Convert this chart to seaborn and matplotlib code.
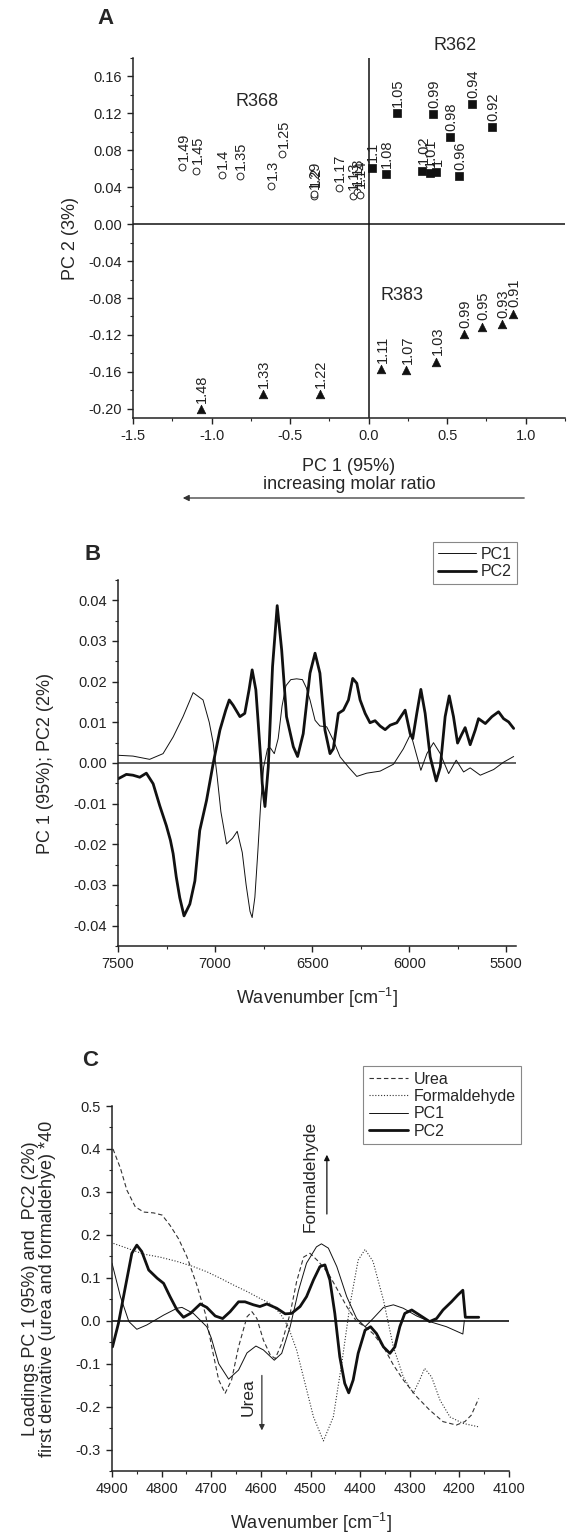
import matplotlib
matplotlib.use("Agg")
import pandas as pd
import matplotlib.pyplot as plt
from matplotlib.ticker import MultipleLocator, FuncFormatter
import seaborn as sns

# ---------------- Panel A: PCA scores ----------------
r368_pc1 = [-1.185, -1.096, -0.936, -0.82, -0.62, -0.55, -0.35, -0.345, -0.19, -0.10, -0.075, -0.057]
r368_pc2 = [0.062, 0.058, 0.053, 0.052, 0.041, 0.076, 0.031, 0.033, 0.039, 0.030, 0.035, 0.032]
r368_lab = ["1.49", "1.45", "1.4", "1.35", "1.3", "1.25", "1.29", "1.2", "1.17", "1.13", "1.18", "1.14"]

r362_pc1 = [0.02, 0.11, 0.18, 0.34, 0.39, 0.43, 0.41, 0.52, 0.575, 0.655, 0.785]
r362_pc2 = [0.061, 0.054, 0.120, 0.058, 0.055, 0.056, 0.119, 0.094, 0.052, 0.130, 0.105]
r362_lab = ["1.1", "1.08", "1.05", "1.02", "1.01", "1", "0.99", "0.98", "0.96", "0.94", "0.92"]

r383_pc1 = [-1.07, -0.675, -0.31, 0.08, 0.24, 0.43, 0.61, 0.72, 0.85, 0.92]
r383_pc2 = [-0.200, -0.184, -0.184, -0.157, -0.158, -0.149, -0.119, -0.111, -0.108, -0.097]
r383_lab = ["1.48", "1.33", "1.22", "1.11", "1.07", "1.03", "0.99", "0.95", "0.93", "0.91"]

# ---------------- Panel B: loadings ----------------
b_pc1_wn = [7500, 7423, 7337, 7268, 7216, 7165, 7113, 7062, 7030, 7010, 6990, 6970, 6941, 6910,
            6886, 6860, 6840, 6820, 6809, 6795, 6780, 6765, 6750, 6730, 6715, 6695, 6675, 6655,
            6635, 6610, 6580, 6550, 6530, 6511, 6485, 6460, 6425, 6391, 6356, 6313, 6270, 6219,
            6150, 6081, 6030, 5992, 5964, 5940, 5909, 5875, 5840, 5797, 5758, 5720, 5686, 5634,
            5565, 5514, 5462]
b_pc1 = [0.0019, 0.0017, 0.0009, 0.0023, 0.0064, 0.0114, 0.0173, 0.0155, 0.0100, 0.0050, -0.0030,
         -0.0120, -0.0199, -0.0185, -0.0168, -0.0220, -0.0300, -0.0365, -0.0380, -0.0330, -0.0220,
         -0.0100, -0.0010, 0.0035, 0.0037, 0.0023, 0.0060, 0.0140, 0.0190, 0.0205, 0.0207, 0.0205,
         0.0185, 0.0155, 0.0105, 0.0091, 0.0089, 0.0056, 0.0015, -0.0010, -0.0033, -0.0025, -0.0020,
         -0.0003, 0.0035, 0.0072, 0.0023, -0.0018, 0.0023, 0.0050, 0.0023, -0.0026, 0.0007, -0.0022,
         -0.0012, -0.0030, -0.0016, 0.0002, 0.0016]

b_pc2_wn = [7500, 7457, 7423, 7388, 7354, 7319, 7285, 7251, 7230, 7216, 7200, 7182, 7160, 7130,
            7104, 7079, 7044, 7010, 6975, 6945, 6927, 6907, 6872, 6847, 6825, 6809, 6790, 6778,
            6765, 6757, 6743, 6726, 6704, 6680, 6657, 6632, 6597, 6575, 6546, 6511, 6485, 6460,
            6434, 6408, 6391, 6365, 6339, 6313, 6291, 6270, 6253, 6227, 6202, 6176, 6150, 6124,
            6098, 6064, 6021, 5995, 5982, 5961, 5940, 5918, 5892, 5861, 5840, 5815, 5794, 5772,
            5751, 5730, 5712, 5686, 5660, 5643, 5608, 5574, 5540, 5514, 5488, 5462]
b_pc2 = [-0.0039, -0.0028, -0.0030, -0.0035, -0.0025, -0.0051, -0.0105, -0.0154, -0.0190, -0.0223,
         -0.0280, -0.0331, -0.0376, -0.0347, -0.0290, -0.0166, -0.0092, -0.0002, 0.0081, 0.0130,
         0.0155, 0.0142, 0.0114, 0.0122, 0.0180, 0.0229, 0.0180, 0.0100, 0.0010, -0.0051, -0.0107,
         -0.0010, 0.0237, 0.0387, 0.0278, 0.0114, 0.0040, 0.0016, 0.0072, 0.0221, 0.0270, 0.0221,
         0.0081, 0.0023, 0.0035, 0.0122, 0.0130, 0.0155, 0.0208, 0.0196, 0.0155, 0.0122, 0.0099,
         0.0104, 0.0091, 0.0082, 0.0093, 0.0099, 0.0130, 0.0072, 0.0060, 0.0122, 0.0181, 0.0122,
         0.0015, -0.0044, -0.0010, 0.0114, 0.0165, 0.0114, 0.0049, 0.0070, 0.0087, 0.0045, 0.0081,
         0.0109, 0.0097, 0.0114, 0.0126, 0.0109, 0.0101, 0.0085]

# ---------------- Panel C: loadings vs. derivative spectra ----------------
urea_wn = [4898, 4883, 4870, 4853, 4836, 4816, 4799, 4783, 4766, 4749, 4729, 4712, 4699, 4685,
           4672, 4659, 4645, 4628, 4618, 4608, 4595, 4581, 4571, 4558, 4541, 4528, 4514, 4501,
           4484, 4464, 4447, 4427, 4407, 4390, 4374, 4353, 4333, 4313, 4286, 4260, 4233, 4206,
           4189, 4176, 4161]
urea = [0.400, 0.355, 0.304, 0.265, 0.253, 0.251, 0.246, 0.222, 0.191, 0.149, 0.083, 0.017, -0.061,
        -0.138, -0.169, -0.138, -0.061, 0.009, 0.021, 0.005, -0.045, -0.080, -0.088, -0.053, 0.017,
        0.091, 0.148, 0.157, 0.138, 0.110, 0.075, 0.033, -0.002, -0.014, -0.030, -0.061, -0.103,
        -0.138, -0.177, -0.208, -0.235, -0.243, -0.235, -0.220, -0.181]

form_wn = [4897, 4870, 4836, 4803, 4769, 4736, 4709, 4682, 4655, 4628, 4602, 4581, 4561, 4545,
           4528, 4511, 4494, 4474, 4454, 4437, 4420, 4404, 4390, 4374, 4353, 4333, 4313, 4293,
           4280, 4270, 4256, 4239, 4219, 4193, 4162]
form = [0.180, 0.169, 0.155, 0.148, 0.138, 0.126, 0.114, 0.099, 0.083, 0.068, 0.052, 0.040, 0.017,
        -0.014, -0.068, -0.146, -0.224, -0.280, -0.224, -0.099, 0.040, 0.141, 0.166, 0.138, 0.048,
        -0.061, -0.131, -0.169, -0.138, -0.111, -0.131, -0.185, -0.224, -0.239, -0.247]

c_pc1_wn = [4900, 4883, 4866, 4850, 4830, 4796, 4769, 4759, 4736, 4709, 4700, 4685, 4665, 4645,
            4628, 4610, 4595, 4573, 4558, 4541, 4524, 4508, 4488, 4478, 4464, 4447, 4427, 4407,
            4390, 4374, 4353, 4333, 4313, 4286, 4260, 4226, 4193, 4190]
c_pc1 = [0.134, 0.056, -0.002, -0.020, -0.010, 0.013, 0.029, 0.031, 0.017, -0.014, -0.040, -0.100,
         -0.136, -0.115, -0.075, -0.059, -0.068, -0.092, -0.076, -0.014, 0.071, 0.134, 0.172, 0.179,
         0.169, 0.126, 0.056, 0.005, -0.014, 0.005, 0.031, 0.037, 0.029, 0.011, -0.002, -0.014,
         -0.031, 0.000]

c_pc2_wn = [4899, 4887, 4873, 4860, 4850, 4840, 4826, 4809, 4796, 4783, 4769, 4756, 4742, 4722,
            4709, 4692, 4677, 4662, 4645, 4632, 4615, 4602, 4588, 4568, 4551, 4538, 4521, 4508,
            4494, 4481, 4471, 4461, 4451, 4441, 4431, 4423, 4414, 4404, 4390, 4379, 4367, 4353,
            4340, 4330, 4320, 4310, 4296, 4280, 4260, 4246, 4233, 4216, 4203, 4193, 4188, 4161]
c_pc2 = [-0.061, -0.006, 0.079, 0.157, 0.176, 0.161, 0.118, 0.099, 0.087, 0.056, 0.025, 0.008, 0.017,
         0.039, 0.031, 0.011, 0.005, 0.021, 0.044, 0.044, 0.037, 0.033, 0.039, 0.029, 0.016, 0.017,
         0.033, 0.056, 0.095, 0.126, 0.130, 0.095, 0.017, -0.084, -0.146, -0.168, -0.138, -0.076,
         -0.022, -0.014, -0.030, -0.061, -0.076, -0.061, -0.014, 0.017, 0.025, 0.013, -0.002, 0.005,
         0.025, 0.044, 0.060, 0.071, 0.008, 0.008]

# ---------------- style ----------------
sns.set_style("ticks")
plt.rcParams['font.family'] = ['Liberation Sans', 'DejaVu Sans']
plt.rcParams['axes.unicode_minus'] = False
plt.rcParams['mathtext.default'] = 'regular'
plt.rcParams['axes.linewidth'] = 1.1
plt.rcParams['xtick.major.width'] = 1.0
plt.rcParams['ytick.major.width'] = 1.0
plt.rcParams['xtick.minor.width'] = 0.8
plt.rcParams['ytick.minor.width'] = 0.8

W, H = 567, 1536
fig = plt.figure(figsize=(W / 100, H / 100), dpi=100, facecolor='white')


def box(l, t, r, b):
    return [l / W, 1 - b / H, (r - l) / W, (b - t) / H]


def fmt(nd):
    # avoid "-0.00" on the zero tick
    return FuncFormatter(lambda v, p: f"{0.0 if abs(v) < 1e-9 else v:.{nd}f}")


def style_axes(ax):
    sns.despine(ax=ax)
    ax.tick_params(which='major', direction='out', length=4.5, labelsize=10.5, colors='#222222')
    ax.tick_params(which='minor', direction='out', length=2.5)
    for s in ['left', 'bottom']:
        ax.spines[s].set_color('#222222')


# ---- Panel A ----
axA = fig.add_axes(box(133, 58, 565, 418))
dA = pd.concat([
    pd.DataFrame({'pc1': r368_pc1, 'pc2': r368_pc2, 'lab': r368_lab, 'resin': 'R368'}),
    pd.DataFrame({'pc1': r362_pc1, 'pc2': r362_pc2, 'lab': r362_lab, 'resin': 'R362'}),
    pd.DataFrame({'pc1': r383_pc1, 'pc2': r383_pc2, 'lab': r383_lab, 'resin': 'R383'}),
])
sns.scatterplot(data=dA[dA.resin == 'R368'], x='pc1', y='pc2', marker='o', s=24,
                color='white', edgecolor='#222222', linewidth=0.7, ax=axA, zorder=3)
sns.scatterplot(data=dA[dA.resin == 'R362'], x='pc1', y='pc2', marker='s', s=26,
                color='#111111', edgecolor='#111111', linewidth=0.5, ax=axA, zorder=3)
sns.scatterplot(data=dA[dA.resin == 'R383'], x='pc1', y='pc2', marker='^', s=38,
                color='#111111', edgecolor='#111111', linewidth=0.5, ax=axA, zorder=3)
for _, r in dA.iterrows():
    axA.annotate(r['lab'], (r['pc1'], r['pc2']), xytext=(1, 4.5), textcoords='offset points',
                 rotation=90, ha='center', va='bottom', fontsize=10.5, color='#222222')
axA.axhline(0, color='#111111', lw=1.1, zorder=1)
axA.axvline(0, color='#111111', lw=1.1, zorder=1)
axA.text(0.55, 0.194, 'R362', fontsize=13, ha='center', va='center', clip_on=False)
axA.text(-0.71, 0.133, 'R368', fontsize=13, ha='center', va='center')
axA.text(0.21, -0.077, 'R383', fontsize=13, ha='center', va='center')
axA.set_xlim(-1.5, 1.25)
axA.set_ylim(-0.21, 0.18)
axA.xaxis.set_major_locator(MultipleLocator(0.5))
axA.xaxis.set_minor_locator(MultipleLocator(0.25))
axA.yaxis.set_major_locator(MultipleLocator(0.04))
axA.yaxis.set_minor_locator(MultipleLocator(0.02))
axA.xaxis.set_major_formatter(fmt(1))
axA.yaxis.set_major_formatter(fmt(2))
axA.set_xlabel('PC 1 (95%)\nincreasing molar ratio', fontsize=13, linespacing=1.1)
axA.xaxis.set_label_coords(0.5, -0.11)
axA.set_ylabel('PC 2 (3%)', fontsize=13)
axA.yaxis.set_label_coords(-0.125, 0.5)
style_axes(axA)
fig.text(105 / W, 1 - 18 / H, 'A', fontsize=16, fontweight='bold', ha='center', va='center')
fig.add_artist(matplotlib.patches.FancyArrowPatch(
    (527 / W, 1 - 498 / H), (180 / W, 1 - 498 / H), transform=fig.transFigure,
    arrowstyle='-|>', mutation_scale=9, color='#333333', lw=0.9))

# ---- Panel B ----
axB = fig.add_axes(box(118, 580, 516, 946))
dB1 = pd.DataFrame({'wn': b_pc1_wn, 'val': b_pc1})
dB2 = pd.DataFrame({'wn': b_pc2_wn, 'val': b_pc2})
sns.lineplot(data=dB1, x='wn', y='val', color='#111111', lw=0.7, sort=False, estimator=None,
             label='PC1', ax=axB)
sns.lineplot(data=dB2, x='wn', y='val', color='#111111', lw=2.0, sort=False, estimator=None,
             label='PC2', ax=axB)
axB.axhline(0, color='#555555', lw=1.3, zorder=0)
axB.set_xlim(7500, 5450)
axB.set_ylim(-0.045, 0.045)
axB.xaxis.set_major_locator(MultipleLocator(500))
axB.xaxis.set_minor_locator(MultipleLocator(250))
axB.yaxis.set_major_locator(MultipleLocator(0.01))
axB.yaxis.set_minor_locator(MultipleLocator(0.005))
axB.yaxis.set_major_formatter(fmt(2))
axB.set_xlabel('Wavenumber [cm$^{-1}$]', fontsize=13)
axB.xaxis.set_label_coords(0.5, -0.11)
axB.set_ylabel('PC 1 (95%); PC2 (2%)', fontsize=13)
axB.yaxis.set_label_coords(-0.16, 0.5)
style_axes(axB)
legB = axB.legend(loc='upper right', bbox_to_anchor=(517 / W, 1 - 542 / H),
                  bbox_transform=fig.transFigure, fontsize=11.5, frameon=True, fancybox=False,
                  edgecolor='#888888', framealpha=1, handlelength=2.4, handletextpad=0.3,
                  labelspacing=0.15, borderpad=0.3, borderaxespad=0)
legB.get_frame().set_linewidth(0.8)
fig.text(93 / W, 1 - 555 / H, 'B', fontsize=16, fontweight='bold', ha='center', va='center')

# ---- Panel C ----
axC = fig.add_axes(box(112, 1106, 509, 1471))
dU = pd.DataFrame({'wn': urea_wn, 'val': urea})
dF = pd.DataFrame({'wn': form_wn, 'val': form})
dC1 = pd.DataFrame({'wn': c_pc1_wn, 'val': c_pc1})
dC2 = pd.DataFrame({'wn': c_pc2_wn, 'val': c_pc2})
sns.lineplot(data=dU, x='wn', y='val', color='#333333', lw=0.8, linestyle=(0, (4, 2.5)),
             sort=False, estimator=None, label='Urea', ax=axC)
sns.lineplot(data=dF, x='wn', y='val', color='#333333', lw=0.8, linestyle=(0, (1, 1.6)),
             sort=False, estimator=None, label='Formaldehyde', ax=axC)
sns.lineplot(data=dC1, x='wn', y='val', color='#111111', lw=0.7, sort=False, estimator=None,
             label='PC1', ax=axC)
sns.lineplot(data=dC2, x='wn', y='val', color='#111111', lw=2.0, sort=False, estimator=None,
             label='PC2', ax=axC)
axC.axhline(0, color='#111111', lw=1.2, zorder=0)
axC.annotate('', xy=(4467, 0.393), xytext=(4467, 0.242),
             arrowprops=dict(arrowstyle='-|>', color='#111111', lw=0.9, mutation_scale=8))
axC.text(4501, 0.335, 'Formaldehyde', rotation=90, fontsize=12.5, ha='center', va='center')
axC.annotate('', xy=(4598, -0.262), xytext=(4598, -0.121),
             arrowprops=dict(arrowstyle='-|>', color='#333333', lw=0.9, mutation_scale=8))
axC.text(4626, -0.179, 'Urea', rotation=90, fontsize=12.5, ha='center', va='center')
axC.set_xlim(4900, 4100)
axC.set_ylim(-0.35, 0.5)
axC.xaxis.set_major_locator(MultipleLocator(100))
axC.xaxis.set_minor_locator(MultipleLocator(50))
axC.yaxis.set_major_locator(MultipleLocator(0.1))
axC.yaxis.set_minor_locator(MultipleLocator(0.05))
axC.yaxis.set_major_formatter(fmt(1))
axC.set_xlabel('Wavenumber [cm$^{-1}$]', fontsize=13)
axC.xaxis.set_label_coords(0.5, -0.108)
axC.set_ylabel('Loadings PC 1 (95%) and  PC2 (2%)\nfirst derivative (urea and formaldehye) *40',
               fontsize=13, linespacing=1.05)
axC.yaxis.set_label_coords(-0.14, 0.5)
style_axes(axC)
legC = axC.legend(loc='upper right', bbox_to_anchor=(521 / W, 1 - 1066 / H),
                  bbox_transform=fig.transFigure, fontsize=11.5, frameon=True, fancybox=False,
                  edgecolor='#888888', framealpha=1, handlelength=2.5, handletextpad=0.3,
                  labelspacing=0.15, borderpad=0.35, borderaxespad=0)
legC.get_frame().set_linewidth(0.8)
fig.text(90 / W, 1 - 1060 / H, 'C', fontsize=16, fontweight='bold', ha='center', va='center')

plt.savefig("out.png", dpi=100, facecolor='white')
